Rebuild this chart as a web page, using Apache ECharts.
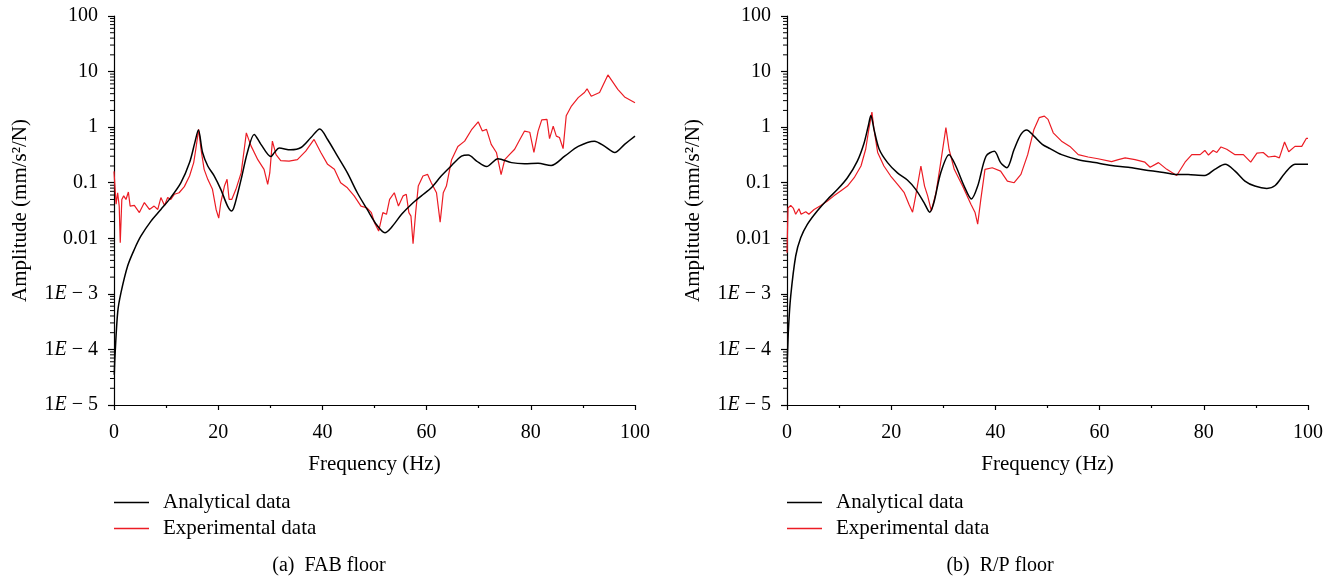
<!DOCTYPE html>
<html><head><meta charset="utf-8">
<script src="https://cdn.jsdelivr.net/npm/echarts@6/dist/echarts.min.js"></script>
<style>html,body{margin:0;padding:0;background:#fff}#c{width:1339px;height:584px}</style>
</head><body><div id="c"></div>
<script>
// ---- data (frequency Hz, amplitude mm/s^2/N) ----
const seriesNames = ['Analytical data', 'Experimental data'];
const captions = ['(a)  FAB floor', '(b)  R/P floor'];
const xTickValues = [0, 20, 40, 60, 80, 100];
const yTickLabels = ['1E − 5', '1E − 4', '1E − 3', '0.01', '0.1', '1', '10', '100'];

const fabAnalytical = [
 [0.05,3.5e-5],[0.19,7.6e-5],[0.71,4.7e-4],[1.34,1.05e-3],[2.63,3.2e-3],[3.9,6.3e-3],[5.18,0.011],[7.1,0.0204],
 [9.0,0.033],[10.9,0.054],[12.85,0.1],[14.5,0.23],[15.5,0.52],[16.2,0.89],[17.0,0.35],[18.0,0.2],[19.25,0.132],
 [20.5,0.076],[21.8,0.038],[22.6,0.031],[23.1,0.038],[24.4,0.115],[25.6,0.35],[26.9,0.74],[28.2,0.49],[30.1,0.295],
 [30.8,0.35],[31.7,0.42],[33.9,0.39],[35.9,0.43],[37.8,0.65],[39.5,0.93],[41,0.6],[42.9,0.3],[44.8,0.15],
 [46.7,0.066],[48.6,0.033],[50.4,0.0175],[52.0,0.0126],[53.2,0.0155],[55.2,0.027],[57.1,0.041],[59.0,0.058],
 [60.9,0.081],[62.8,0.132],[64.8,0.204],[66.7,0.3],[68.0,0.316],[69.6,0.245],[71.5,0.195],[73.7,0.27],[76.3,0.23],
 [78.8,0.22],[81.4,0.224],[83.9,0.204],[86.5,0.3],[89.1,0.45],[92.2,0.56],[94.2,0.45],[96.1,0.35],[98,0.49],[100,0.69]
];
const fabExperimental = [
 [0,0.16],[0.4,0.041],[0.7,0.066],[1.0,0.038],[1.2,0.0083],[1.5,0.05],[1.86,0.058],[2.3,0.05],[2.76,0.068],[3.1,0.038],
 [3.9,0.039],[4.87,0.029],[5.83,0.044],[6.8,0.033],[7.7,0.038],[8.4,0.033],[9.0,0.054],[9.7,0.039],[10.3,0.054],[10.9,0.05],
 [11.6,0.062],[12.5,0.066],[13.5,0.085],[14.5,0.132],[15.3,0.23],[15.7,0.4],[16.25,0.91],[16.7,0.4],[17.3,0.174],[18,0.115],
 [18.9,0.076],[19.6,0.033],[20.1,0.023],[20.5,0.044],[21.2,0.087],[21.7,0.115],[22.1,0.05],[22.6,0.05],[23.4,0.076],[24.4,0.15],
 [25.0,0.4],[25.4,0.79],[26.3,0.46],[27.6,0.26],[28.8,0.174],[29.5,0.093],[29.9,0.15],[30.4,0.56],[31.1,0.32],[32.0,0.25],
 [33.6,0.245],[35.2,0.26],[36.8,0.37],[38.4,0.6],[39.7,0.35],[41,0.214],[42.3,0.174],[43.5,0.1],[44.8,0.081],[46.1,0.058],
 [47.4,0.038],[48.6,0.035],[49.4,0.029],[50.0,0.019],[50.8,0.0135],[51.6,0.029],[52.3,0.027],[52.9,0.05],[53.8,0.066],
 [54.6,0.038],[55.5,0.058],[56.1,0.062],[56.6,0.029],[57.0,0.025],[57.4,0.008],[57.9,0.029],[58.4,0.087],[59.3,0.132],
 [60.2,0.141],[60.9,0.1],[61.9,0.066],[62.6,0.0195],[63.2,0.066],[63.8,0.087],[64.8,0.26],[66.0,0.45],[67.3,0.56],
 [68.6,0.89],[69.9,1.25],[70.7,0.85],[71.5,0.91],[72.4,0.49],[73.4,0.35],[74.3,0.14],[75.0,0.26],[75.9,0.32],[76.9,0.4],
 [77.9,0.6],[78.8,0.85],[79.8,0.81],[80.6,0.35],[81.4,0.85],[82.1,1.35],[83.1,1.38],[83.6,0.62],[84.3,1.04],[84.9,0.69],
 [85.5,0.65],[86.2,0.41],[86.8,1.6],[87.8,2.4],[89.1,3.4],[90.3,4.2],[90.8,4.9],[91.6,3.6],[93.2,4.2],[94.8,8.7],
 [96.7,4.8],[98,3.5],[100,2.75]
];
const rpAnalytical = [
 [0.05,6e-5],[0.3,2.5e-4],[0.71,9.1e-4],[1.67,4.8e-3],[2.63,0.0102],[3.9,0.0178],[5.8,0.031],[7.76,0.05],[9.7,0.076],
 [11.6,0.123],[13.5,0.245],[14.8,0.52],[15.6,1.05],[16.1,1.62],[16.7,0.91],[17.7,0.4],[19.3,0.23],[21.2,0.15],[23.1,0.112],
 [24.7,0.076],[26.3,0.044],[27.4,0.0295],[28.2,0.044],[29.5,0.15],[31.1,0.32],[32.4,0.2],[34.0,0.087],[35.4,0.051],
 [36.6,0.087],[38.2,0.3],[39.8,0.37],[41.0,0.23],[42.2,0.186],[43.6,0.4],[44.9,0.74],[46.0,0.89],[47.4,0.69],[49.0,0.49],
 [50.5,0.41],[52.7,0.32],[55.9,0.26],[59.1,0.23],[62.3,0.204],[65.5,0.19],[68.7,0.17],[71.9,0.155],[74.5,0.141],[77.0,0.14],
 [80.2,0.135],[82.1,0.174],[84.1,0.214],[86.0,0.162],[87.9,0.107],[89.8,0.087],[92.1,0.079],[93.7,0.089],[95.6,0.15],
 [97.5,0.214],[100,0.216]
];
const rpExperimental = [
 [0,0.0055],[0.2,0.035],[0.71,0.039],[1.2,0.035],[1.67,0.027],[2.3,0.034],[2.7,0.027],[3.6,0.03],[4.2,0.027],[5.2,0.033],
 [6.5,0.039],[7.76,0.047],[9.0,0.058],[10.3,0.071],[11.6,0.087],[12.9,0.123],[14.2,0.2],[15.1,0.4],[15.7,0.91],[16.3,1.86],
 [16.7,0.91],[17.4,0.35],[18.6,0.2],[19.9,0.132],[21.5,0.087],[22.5,0.066],[23.4,0.041],[24.1,0.0295],[24.7,0.058],[25.7,0.2],
 [26.4,0.087],[27.0,0.058],[27.7,0.031],[28.6,0.066],[29.5,0.23],[30.5,0.98],[31.1,0.4],[32.1,0.174],[33.7,0.087],[35.3,0.041],
 [36.1,0.029],[36.6,0.018],[37.2,0.05],[38.0,0.174],[39.4,0.186],[41.0,0.162],[42.3,0.107],[43.6,0.1],[44.9,0.141],[46.2,0.32],
 [47.4,0.91],[48.4,1.48],[49.4,1.58],[50.1,1.38],[51.1,0.79],[52.7,0.56],[54.3,0.45],[55.9,0.32],[57.8,0.29],[59.7,0.27],
 [62.3,0.24],[63.6,0.26],[64.9,0.28],[66.8,0.26],[68.7,0.234],[69.7,0.19],[71.3,0.23],[72.9,0.174],[74.8,0.135],[76.4,0.234],
 [77.7,0.32],[79.3,0.32],[80.2,0.38],[80.9,0.315],[81.8,0.38],[82.5,0.35],[83.3,0.44],[84.4,0.4],[86.0,0.32],[87.6,0.32],
 [89.0,0.234],[90.2,0.34],[91.4,0.35],[92.4,0.29],[93.7,0.3],[94.5,0.28],[95.5,0.54],[96.3,0.36],[97.5,0.45],[98.8,0.45],
 [99.7,0.63],[100,0.63]
];

// ---- styling ----
const FONT = '"Liberation Serif", "DejaVu Serif", serif';
const RED = '#ec1c24';
const yMinor = [];
for (let e = -5; e < 2; e++) for (let m = 2; m <= 9; m++) yMinor.push([0, m * Math.pow(10, e)]);

function yLabel(v) {
  const e = Math.round(Math.log10(v));
  const s = yTickLabels[e + 5] || '';
  return s.replace('E', '{i|E}');
}

const grids = [
  {left: 114, top: 16, width: 521, height: 389},
  {left: 787, top: 16, width: 521, height: 389}
];
const xAxes = [], yAxes = [], series = [], legends = [];
const panels = [[fabAnalytical, fabExperimental], [rpAnalytical, rpExperimental]];
panels.forEach((p, i) => {
  xAxes.push({
    type: 'value', gridIndex: i, min: 0, max: 100, interval: 20,
    name: 'Frequency (Hz)', nameLocation: 'middle', nameGap: 49,
    nameTextStyle: {fontFamily: FONT, fontSize: 21, color: '#000'},
    axisLine: {lineStyle: {color: '#000', width: 1.2}},
    axisTick: {length: 5, lineStyle: {color: '#000', width: 1.2}},
    minorTick: {show: true, splitNumber: 2, length: 3, lineStyle: {color: '#000', width: 1.2}},
    axisLabel: {fontFamily: FONT, fontSize: 20, color: '#000', margin: 18,
      formatter: v => xTickValues.indexOf(v) >= 0 ? String(v) : ''},
    splitLine: {show: false}
  });
  yAxes.push({
    type: 'log', logBase: 10, gridIndex: i, min: 1e-5, max: 100, interval: 1,
    name: 'Amplitude (mm/s²/N)', nameLocation: 'middle', nameGap: 83, nameRotate: 90,
    nameTextStyle: {fontFamily: FONT, fontSize: 21, color: '#000'},
    axisLine: {lineStyle: {color: '#000', width: 1.2}},
    axisTick: {length: 6, lineStyle: {color: '#000', width: 1.2}},
    axisLabel: {fontFamily: FONT, fontSize: 20, color: '#000', margin: 16, formatter: yLabel,
      rich: {i: {fontFamily: FONT, fontSize: 20, color: '#000', fontStyle: 'italic'}}},
    splitLine: {show: false}
  });
  series.push({
    name: seriesNames[0], type: 'line', xAxisIndex: i, yAxisIndex: i, data: p[0],
    showSymbol: false, symbol: 'none', smooth: 0.3, color: '#000',
    lineStyle: {color: '#000', width: 1.5}, z: 3
  });
  series.push({
    name: seriesNames[1], type: 'line', xAxisIndex: i, yAxisIndex: i, data: p[1],
    showSymbol: false, symbol: 'none', color: RED,
    lineStyle: {color: RED, width: 1.2}, z: 2
  });
  series.push({
    type: 'custom', xAxisIndex: i, yAxisIndex: i, data: yMinor, silent: true, clip: false,
    renderItem: (params, api) => {
      const pt = api.coord([api.value(0), api.value(1)]);
      return {type: 'line', shape: {x1: pt[0] - 4, y1: pt[1], x2: pt[0], y2: pt[1]},
        style: {stroke: '#000', lineWidth: 1}};
    }
  });
  legends.push({
    data: seriesNames, orient: 'vertical', left: grids[i].left, top: 492, padding: 0,
    icon: 'rect', itemWidth: 35, itemHeight: 1.5, itemGap: 5,
    textStyle: {fontFamily: FONT, fontSize: 21, color: '#000', padding: [0, 0, 0, 9]},
    selectedMode: false
  });
});

const chart = echarts.init(document.getElementById('c'), null, {renderer: 'canvas'});
chart.setOption({
  animation: false,
  backgroundColor: '#fff',
  grid: grids,
  xAxis: xAxes,
  yAxis: yAxes,
  legend: legends,
  series: series,
  graphic: captions.map((t, i) => ({
    type: 'text', x: i === 0 ? 329 : 1000, y: 566,
    style: {text: t, font: '20px ' + FONT, fill: '#000', align: 'center', verticalAlign: 'middle'}
  }))
});
</script></body></html>
